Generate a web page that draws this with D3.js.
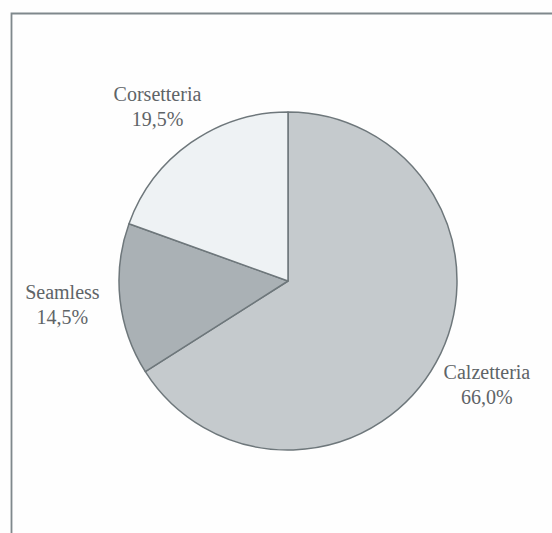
<!DOCTYPE html>
<html>
<head>
<meta charset="utf-8">
<script src="https://cdn.jsdelivr.net/npm/d3@7"></script>
<style>
  html, body { margin: 0; padding: 0; background: #fefefe; }
  svg { display: block; }
</style>
</head>
<body>
<svg id="chart" width="552" height="533"></svg>
<script>
// Sales breakdown by product line (%)
const categories = ["Calzetteria", "Seamless", "Corsetteria"];
const values = [66.0, 14.5, 19.5];
const valueLabels = ["66,0%", "14,5%", "19,5%"];
const fills = ["#c5cacd", "#aab1b5", "#eef2f4"];

const svg = d3.select("#chart");
const W = 552, H = 533;

// Frame: only top and left edges fall inside the visible area
svg.append("path")
  .attr("d", `M11.5,${H} L11.5,13.5 L${W},13.5`)
  .attr("fill", "none")
  .attr("stroke", "#7f888c")
  .attr("stroke-width", 1.8);

const cx = 288, cy = 281, R = 169;
const g = svg.append("g").attr("transform", `translate(${cx},${cy})`);

const data = categories.map((c, i) => ({ name: c, value: values[i], label: valueLabels[i], fill: fills[i] }));

const pie = d3.pie().sort(null).value(d => d.value);
const arcs = pie(data);
const arc = d3.arc().innerRadius(0).outerRadius(R);
// Labels sit on a slightly flattened ring around the pie
const unitArc = d3.arc().innerRadius(1).outerRadius(1);
const labelRx = 227, labelRy = 214;

g.selectAll("path.slice")
  .data(arcs)
  .join("path")
  .attr("class", "slice")
  .attr("d", arc)
  .attr("fill", d => d.data.fill)
  .attr("stroke", "#6e777b")
  .attr("stroke-width", 1.5)
  .attr("stroke-linejoin", "round");

const labels = g.selectAll("text.lbl")
  .data(arcs)
  .join("text")
  .attr("class", "lbl")
  .attr("text-anchor", "middle")
  .attr("font-family", "'Liberation Serif', 'DejaVu Serif', serif")
  .attr("font-size", 20)
  .attr("fill", "#5e6467")
  .attr("transform", d => {
    const [ux, uy] = unitArc.centroid(d);
    return `translate(${ux * labelRx},${uy * labelRy})`;
  });

labels.append("tspan").attr("x", 0).attr("y", -5).text(d => d.data.name);
labels.append("tspan").attr("x", 0).attr("y", 20).text(d => d.data.label);
</script>
</body>
</html>
